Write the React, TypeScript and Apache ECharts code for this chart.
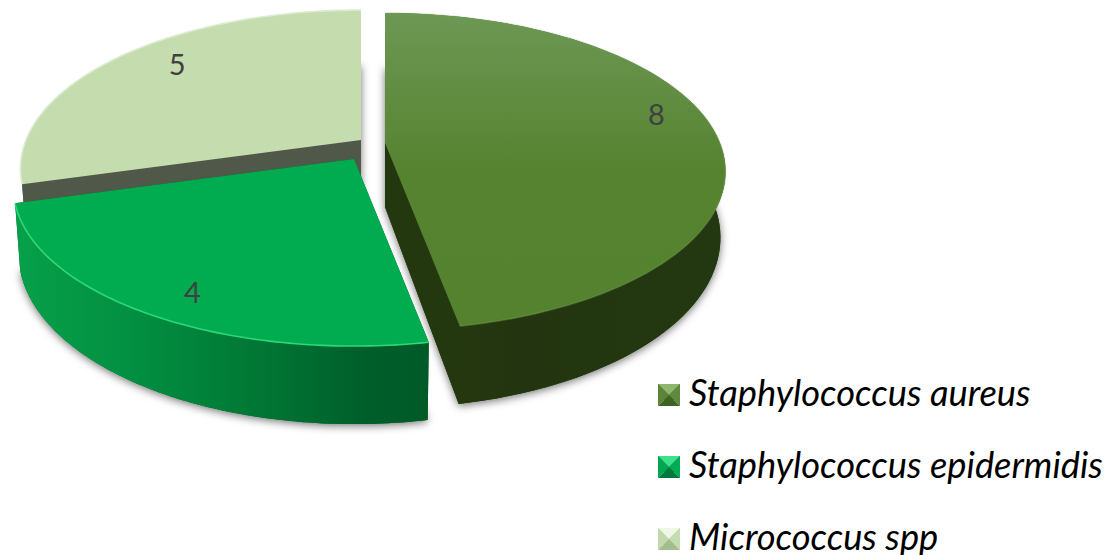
import React, { useEffect, useRef } from "react";
import * as echarts from "echarts";

const categories = ["Staphylococcus aureus", "Staphylococcus epidermidis", "Micrococcus spp"];
const counts = [8, 4, 5];

const total = counts.reduce((a, b) => a + b, 0);
const FONT = "Lato, Carlito, 'Open Sans', sans-serif";
const B = 335, A = 153.4, P = 0.18, D = 64, KX = 0.985;

const grad = (x0: number, y0: number, x1: number, y1: number, stops: [number, string][]) =>
  new echarts.graphic.LinearGradient(x0, y0, x1, y1, stops.map(([offset, color]) => ({ offset, color })));

const looks = [
  {
    apex: [385, 143], labelShift: [9, -18], layer: 2,
    top: () => grad(0, 0, 0, 1, [[0, "#6c9855"], [0.5, "#568330"], [1, "#55822e"]]),
    wall: () => grad(0, 0, 1, 0, [[0, "#293a0e"], [0.4, "#223510"], [1, "#233810"]]),
    cut: "#24380f", rim: "rgba(130,170,100,0.3)",
    legend: ["#8fb56f", "#5a8436", "#5f8a3e", "#3f6322"],
  },
  {
    apex: [354, 159], labelShift: [5, 9], layer: 3,
    top: () => "#00ac4f",
    wall: () => grad(0, 0, 1, 0, [[0, "#07a049"], [0.3, "#028e41"], [0.55, "#017a36"], [0.85, "#005e2a"], [1, "#005a28"]]),
    cut: "#035c2c", rim: "#2dd878",
    legend: ["#3fe08c", "#00a651", "#00ac54", "#007a3a"],
  },
  {
    apex: [361, 140], labelShift: [9, -10], layer: 1,
    top: () => "#c5dcae",
    wall: () => "#50584a",
    cut: "#50584a", rim: "#dcecd0",
    legend: ["#eef6e6", "#c2d9ad", "#c5dcae", "#a3bd8e"],
  },
];

const at = (apex: number[], deg: number, z: number) => {
  const r = (deg * Math.PI) / 180;
  const u = Math.sin(r), v = -Math.cos(r);
  const s = 1 / (1 - P * v);
  const k = z ? KX : 1;
  return [apex[0] + B * u * s * k, apex[1] + A * v * s + z * D * s];
};

const arc = (apex: number[], a0: number, a1: number, z: number) => {
  const n = 90;
  const pts: number[][] = [];
  for (let i = 0; i <= n; i++) pts.push(at(apex, a0 + ((a1 - a0) * i) / n, z));
  return pts;
};

const renderSlice = (params: any, api: any) => {
  const idx = params.seriesIndex;
  const look = looks[idx];
  const value = api.value(0);
  const before = counts.slice(0, idx).reduce((a, b) => a + b, 0);
  const a0 = (before / total) * 360;
  const a1 = a0 + (value / total) * 360;
  const apex = look.apex;
  const apexLow = [apex[0], apex[1] + D];
  const topArc = arc(apex, a0, a1, 0);
  const lowArc = arc(apex, a0, a1, 1);
  const mid = (a0 + a1) / 2;
  const m = at(apex, mid, 0);
  const lx = apex[0] + (m[0] - apex[0]) * 0.8 + look.labelShift[0];
  const ly = apex[1] + (m[1] - apex[1]) * 0.8 + look.labelShift[1];
  return {
    type: "group",
    children: [
      {
        type: "polygon",
        shape: { points: [apexLow, ...lowArc] },
        style: { fill: look.cut, shadowBlur: 9, shadowColor: "rgba(0,0,0,0.55)", shadowOffsetX: 0, shadowOffsetY: 2 },
      },
      { type: "polygon", shape: { points: [apex, topArc[0], lowArc[0], apexLow] }, style: { fill: look.cut } },
      { type: "polygon", shape: { points: [apex, topArc[topArc.length - 1], lowArc[lowArc.length - 1], apexLow] }, style: { fill: look.cut } },
      { type: "polygon", shape: { points: [...topArc, ...lowArc.slice().reverse()] }, style: { fill: look.wall() } },
      { type: "polygon", shape: { points: [apex, ...topArc] }, style: { fill: look.top() } },
      { type: "polyline", shape: { points: topArc }, style: { fill: "none", stroke: look.rim, lineWidth: 1.6 } },
      {
        type: "text", x: lx, y: ly,
        style: { text: String(value), fontSize: 29, fontFamily: FONT, fill: "#404040", align: "center", verticalAlign: "middle" },
      },
    ],
  };
};

const ICON_X = 658, ICON_Y = 384, ICON = 22, ROW = 72;

const bevels = looks.flatMap((look, i) => {
  const x0 = ICON_X, y0 = ICON_Y + i * ROW, x1 = x0 + ICON, y1 = y0 + ICON;
  const c: number[] = [x0 + ICON / 2, y0 + ICON / 2];
  const [hi, side, midc, lo] = look.legend;
  return [
    { type: "polygon", z: 20, shape: { points: [[x0, y0], [x1, y0], c] }, style: { fill: hi } },
    { type: "polygon", z: 20, shape: { points: [[x0, y0], c, [x0, y1]] }, style: { fill: side } },
    { type: "polygon", z: 20, shape: { points: [[x1, y0], c, [x1, y1]] }, style: { fill: midc } },
    { type: "polygon", z: 20, shape: { points: [[x0, y1], [x1, y1], c] }, style: { fill: lo } },
  ];
});

export default function App() {
  const ref = useRef<HTMLDivElement>(null);
  useEffect(() => {
    const chart = echarts.init(ref.current!, undefined, { renderer: "svg" });
    chart.setOption({
      animation: false,
      backgroundColor: "#ffffff",
      legend: {
        show: true,
        orient: "vertical",
        left: ICON_X,
        top: 374,
        width: 461,
        height: 300,
        padding: 0,
        itemWidth: ICON,
        itemHeight: 16,
        itemGap: 36,
        selectedMode: false,
        icon: "rect",
        data: categories,
        textStyle: {
          fontFamily: FONT, fontStyle: "italic", fontSize: 36.3, color: "#000000",
          lineHeight: 30, height: 30, padding: [0, 0, 0, 4],
        },
      },
      graphic: { elements: bevels },
      series: categories.map((name, i) => ({
        type: "custom",
        name,
        coordinateSystem: "none",
        silent: true,
        z: looks[i].layer,
        itemStyle: { color: looks[i].legend[2] },
        renderItem: renderSlice,
        clip: false,
        data: [[counts[i]]],
      })),
    });
    return () => chart.dispose();
  }, []);
  return <div ref={ref} style={{ position: "absolute", left: 0, top: 0, width: 1119, height: 555 }} />;
}
